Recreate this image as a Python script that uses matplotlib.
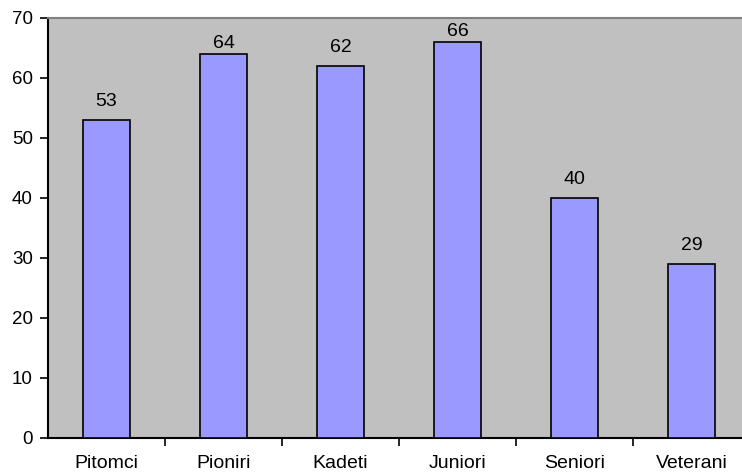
import matplotlib
matplotlib.use("Agg")
import matplotlib.pyplot as plt

categories = ["Pitomci", "Pioniri", "Kadeti", "Juniori", "Seniori", "Veterani"]
values = [53, 64, 62, 66, 40, 29]
yticks = [0, 10, 20, 30, 40, 50, 60, 70]

# gap (in pixels) between bar top and its value label, as in the reference
label_gap_px = [14, 6, 14, 6, 14, 14]

plt.rcParams['font.family'] = ['Liberation Sans', 'DejaVu Sans']
FS = 13.5

fig = plt.figure(figsize=(7.42, 4.72), dpi=100)
W, H = 742, 472
ax = fig.add_axes([48 / W, (H - 438) / H, 702 / W, 420 / H])
ax.set_facecolor('#C0C0C0')

x = list(range(len(categories)))
ax.bar(x, values, width=0.41, color='#9999FF', edgecolor='black', linewidth=1.2, zorder=3)
for xi, v, g in zip(x, values, label_gap_px):
    ax.annotate(str(v), xy=(xi, v), xytext=(0, g * 0.72), textcoords='offset points',
                ha='center', va='baseline', fontsize=14, annotation_clip=False)

ax.set_xlim(-0.5, len(categories) - 0.5)
ax.set_ylim(0, 70)
ax.set_yticks(yticks)
ax.set_yticklabels([str(t) for t in yticks], fontsize=FS)
ax.set_xticks(x)
ax.set_xticklabels(categories, fontsize=14)
ax.tick_params(axis='x', length=0, pad=12.5)
ax.set_xticks([i + 0.5 for i in range(len(categories) - 1)], minor=True)
ax.tick_params(axis='x', which='minor', length=6, width=1.2, direction='out')
ax.tick_params(axis='y', length=6, width=1.2, direction='out', pad=5)

for s in ['left', 'bottom']:
    ax.spines[s].set_color('black')
    ax.spines[s].set_linewidth(1.5)
ax.spines['top'].set_color('#808080')
ax.spines['top'].set_linewidth(1.5)
ax.spines['right'].set_visible(False)

fig.savefig('out.png', dpi=100)
